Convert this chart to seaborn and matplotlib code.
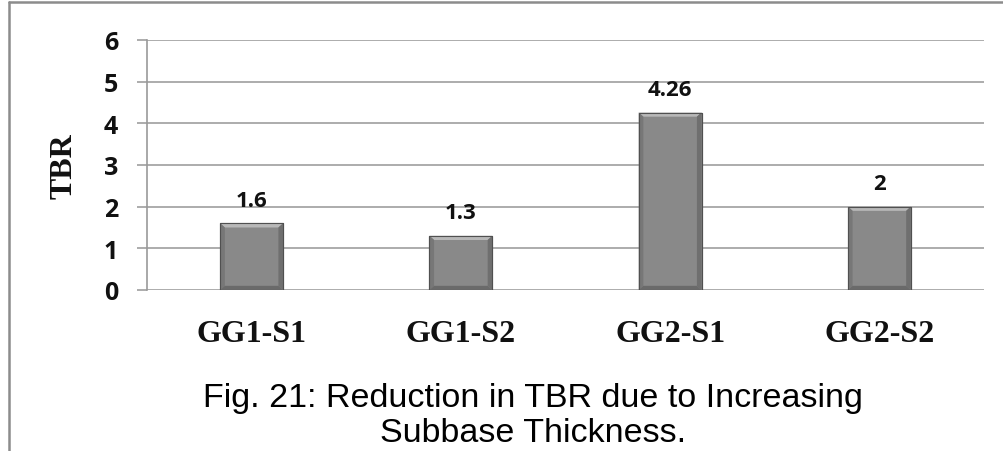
import matplotlib
matplotlib.use("Agg")
import matplotlib.pyplot as plt
from matplotlib.patches import Polygon
from matplotlib.lines import Line2D
import seaborn as sns
import pandas as pd

categories = ["GG1-S1", "GG1-S2", "GG2-S1", "GG2-S2"]
tbr_values = [1.6, 1.3, 4.26, 2.0]
value_labels = ["1.6", "1.3", "4.26", "2"]
y_ticks = [0, 1, 2, 3, 4, 5, 6]
caption_lines = ["Fig. 21: Reduction in TBR due to Increasing", "Subbase Thickness."]

sns.set_theme(style="white")
plt.rcParams["font.family"] = ["Liberation Sans", "DejaVu Sans"]

NUM_FONT = "Open Sans"

W, H = 1004, 452
fig = plt.figure(figsize=(W / 100, H / 100), dpi=100)
ax = fig.add_axes([147 / W, 1 - 291 / H, (984 - 147) / W, (291 - 41) / H])

df = pd.DataFrame({"cat": categories, "TBR": tbr_values})
sns.barplot(data=df, x="cat", y="TBR", color="#898989", saturation=1,
            width=0.3, ax=ax, edgecolor="#505050", linewidth=0.8, zorder=3)

ax.set_ylim(0, 6)
ax.set_yticks(y_ticks)
ax.set_xlim(-0.5, len(categories) - 0.5)

# bevel effect
dx, dy = 0.022, 0.1
for p in list(ax.patches):
    x0, w, h = p.get_x(), p.get_width(), p.get_height()
    x1 = x0 + w
    parts = [
        ([(x0, h), (x1, h), (x1 - dx, h - dy), (x0 + dx, h - dy)], "#b8b8b8"),
        ([(x0, 0), (x0, h), (x0 + dx, h - dy), (x0 + dx, dy)], "#777777"),
        ([(x1, 0), (x1, h), (x1 - dx, h - dy), (x1 - dx, dy)], "#6f6f6f"),
        ([(x0, 0), (x1, 0), (x1 - dx, dy), (x0 + dx, dy)], "#6a6a6a"),
    ]
    for pts, c in parts:
        ax.add_patch(Polygon(pts, closed=True, facecolor=c, edgecolor="none", zorder=3.5))
    ax.add_patch(Polygon([(x0, 0), (x0, h), (x1, h), (x1, 0)], closed=True,
                         facecolor="none", edgecolor="#505050", linewidth=0.8, zorder=4))

# data labels
for cont in ax.containers:
    ax.bar_label(cont, labels=value_labels, padding=9,
                 fontfamily=NUM_FONT, fontweight="bold", fontsize=16, color="#111111")

# grid & spines
ax.yaxis.grid(True, color="#a6a6a6", linewidth=1.3)
ax.xaxis.grid(False)
ax.set_axisbelow(True)
for s in ["top", "right", "bottom"]:
    ax.spines[s].set_visible(False)
ax.spines["left"].set_color("#999999")
ax.spines["left"].set_linewidth(1.2)

ax.tick_params(axis="y", length=7.2, width=1.3, color="#a6a6a6", pad=13.5, left=True)
ax.tick_params(axis="x", length=0, pad=21)
for lab in ax.get_yticklabels():
    lab.set_fontfamily(NUM_FONT)
    lab.set_fontweight("bold")
    lab.set_fontsize(18)
    lab.set_color("#111111")
for lab in ax.get_xticklabels():
    lab.set_fontfamily("Liberation Serif")
    lab.set_fontweight("bold")
    lab.set_fontsize(23)
    lab.set_color("#111111")

ax.set_xlabel("")
ax.set_ylabel("TBR", fontfamily="Liberation Serif", fontweight="bold",
              fontsize=23, color="#111111", va="center")
ax.yaxis.set_label_coords((64 - 147) / (984 - 147), 0.5)

# caption
cx = 533 / W
fig.text(cx, 1 - 407 / H, caption_lines[0], ha="center", va="baseline",
         fontfamily="Liberation Sans", fontsize=24.5, color="#000000")
fig.text(cx, 1 - 442 / H, caption_lines[1], ha="center", va="baseline",
         fontfamily="Liberation Sans", fontsize=24.5, color="#000000")

# frame lines (top and left)
fig.add_artist(Line2D([9 / W, 1.0], [1 - 3 / H, 1 - 3 / H], transform=fig.transFigure,
                      color="#8c8c8c", linewidth=1.8))
fig.add_artist(Line2D([9 / W, 9 / W], [0.0, 1 - 3 / H], transform=fig.transFigure,
                      color="#8c8c8c", linewidth=1.8))

fig.savefig("out.png", dpi=100)
